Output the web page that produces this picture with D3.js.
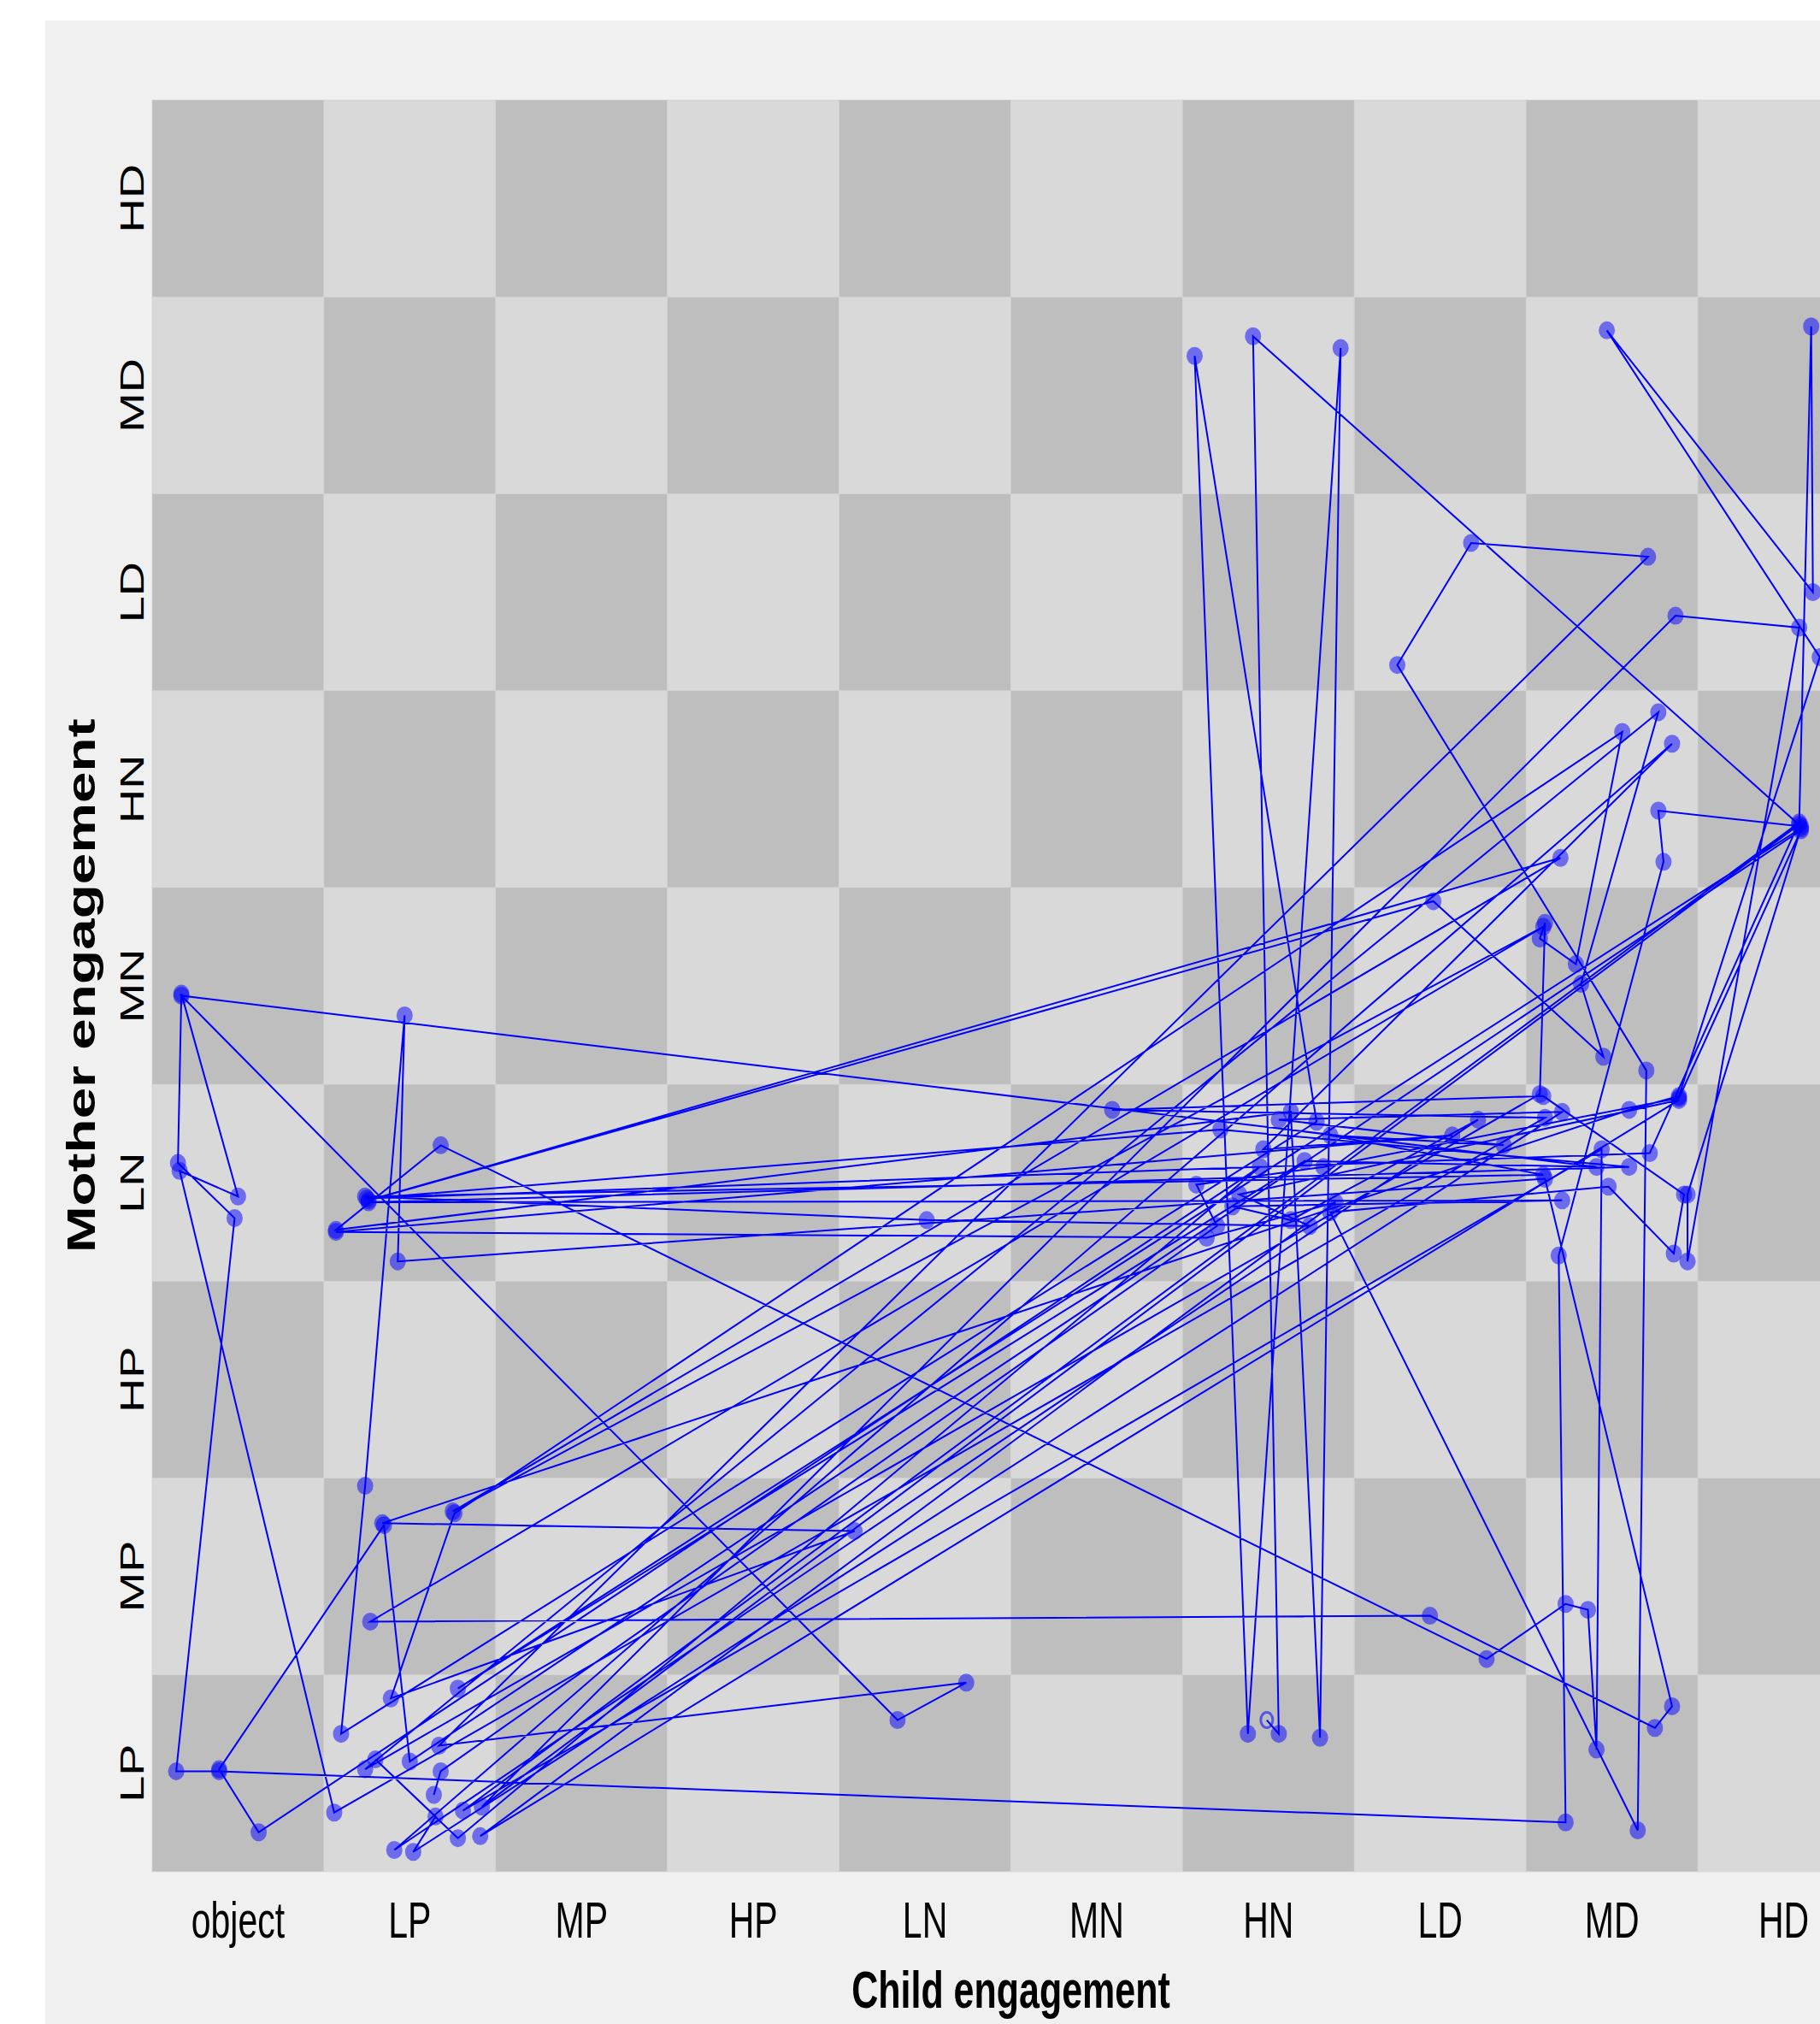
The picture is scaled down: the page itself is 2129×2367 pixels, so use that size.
<!DOCTYPE html>
<html>
<head>
<meta charset="utf-8">
<script src="https://cdn.jsdelivr.net/npm/d3@7"></script>
<style>
  html, body { margin: 0; padding: 0; background: #ffffff; }
  svg { display: block; }
</style>
</head>
<body>
<script>
// ---- data ----
const childCategories  = ["object","LP","MP","HP","LN","MN","HN","LD","MD","HD"];
const motherCategories = ["LP","MP","HP","LN","MN","HN","LD","MD","HD"];

// trajectory, in category-index units (0 = first category), jittered as in the picture
const childValues = [
  5.99, 6.06, 5.91, 9.10, 8.27, 8.30, 7.69, 7.73, -0.11, -0.36,
  -0.02, -0.35, -0.33, 0.00, -0.34, 0.56, 7.61, 5.09, 7.60, 8.42,
  8.36, 7.98, 6.36, 8.15, 8.20, 6.75, 7.18, 8.21, 1.17, 4.24,
  3.84, -0.33, 7.91, 6.21, 1.28, 9.10, 8.44, 8.44, 9.09, 8.37,
  1.42, 9.09, 9.16, 9.17, 7.97, 9.21, 8.39, 8.10, 0.84, 3.59,
  0.89, 1.26, 8.06, 7.79, 7.58, 7.61, 7.58, 0.74, 8.27, 7.82,
  7.95, 6.96, 0.76, 7.70, 1.25, 7.60, 0.77, 6.94, 8.25, 8.35,
  7.61, 0.93, 0.97, 0.74, 0.60, 6.28, 5.57, 5.88, 6.42, 6.30,
  6.13, 0.57, 1.18, 7.27, 7.73, 7.86, 7.91, 7.94, 1.31, 9.09,
  8.22, 0.75, 5.72, 8.10, 0.76, 7.71, 5.79, 6.13, 7.22, 0.91,
  8.35, 5.97, 7.07, 0.57, 5.64, 6.39, 1.41, 8.39, 5.83, 6.24,
  4.01, 0.74, 7.60, 6.36, 7.37, 6.06, 7.71, 1.02, 1.15, 0.80,
  1.28, 5.95, 0.12, -0.11, 0.85, 1.00, 9.10, 8.39, 6.32, 5.58,
  5.70, 1.18, 1.14
];
const motherValues = [
  0.27, 0.20, 7.30, 4.81, 4.89, 4.63, 2.63, -0.25, 0.01, 0.01,
  2.82, 3.10, 3.96, 2.93, 3.06, -0.20, 3.33, 3.37, 3.44, 2.94,
  2.64, 2.98, 2.85, -0.29, 3.57, 5.63, 6.25, 6.18, 0.14, 0.46,
  0.27, 3.95, 3.08, 3.11, 0.43, 4.80, 2.94, 2.60, 5.82, 5.88,
  -0.17, 4.82, 7.35, 6.00, 7.33, 5.67, 3.44, 3.37, 1.27, 1.23,
  0.38, 1.32, 5.29, 4.11, 4.24, 4.32, 3.45, 0.02, 5.39, 4.01,
  3.64, 4.43, 2.91, 4.65, 1.33, 4.30, 0.77, 0.80, 0.23, 0.34,
  3.02, 2.60, 3.85, 1.46, 0.20, 3.31, 7.20, 0.20, 7.24, 0.18,
  3.36, 2.76, 3.19, 0.58, 0.86, 0.83, 0.12, 3.17, -0.19, 4.83,
  3.15, 2.92, 3.27, 3.08, 2.90, 2.91, 2.88, 2.81, 3.32, -0.39,
  5.23, 3.17, 3.24, 2.75, 2.72, 2.90, -0.32, 3.42, 2.94, 2.78,
  2.81, 2.93, 3.04, 3.24, 3.19, 3.32, 3.36, -0.40, -0.22, 0.07,
  -0.33, 3.08, -0.30, 0.02, 1.26, 0.06, 4.79, 3.43, 3.08, 2.99,
  2.78, 0.01, -0.11
];
const xTitle = "Child engagement";
const yTitle = "Mother engagement";

// ---- layout ----
const W = 2129, H = 2367;
const gridLeft = 178, gridTop = 117, cellW = 200.9, cellH = 230.2;
const gridRight = gridLeft + cellW * childCategories.length;
const gridBottom = gridTop + cellH * motherCategories.length;
const vStretch = 1.43;

const svg = d3.select("body").append("svg")
  .attr("width", W).attr("height", H);

svg.append("rect").attr("x", 0).attr("y", 0).attr("width", W).attr("height", H).attr("fill", "#ffffff");
svg.append("rect").attr("x", 53).attr("y", 24).attr("width", W - 53).attr("height", H - 24).attr("fill", "#f0f0f0");

const xBand = d3.scaleBand().domain(childCategories).range([gridLeft, gridRight]);
const yBand = d3.scaleBand().domain(motherCategories.slice().reverse()).range([gridTop, gridBottom]);
const x = d3.scaleLinear().domain([-0.5, childCategories.length - 0.5]).range([gridLeft, gridRight]);
const y = d3.scaleLinear().domain([-0.5, motherCategories.length - 0.5]).range([gridBottom, gridTop]);

// checkerboard
const cells = [];
childCategories.forEach((c, i) => motherCategories.forEach((m, j) => cells.push({c, m, i, j})));
svg.append("g").selectAll("rect").data(cells).join("rect")
  .attr("x", d => xBand(d.c)).attr("y", d => yBand(d.m))
  .attr("width", xBand.bandwidth()).attr("height", yBand.bandwidth())
  .attr("fill", d => (d.i + d.j) % 2 === 0 ? "#bebebe" : "#d9d9d9")
  .attr("stroke", "#d2d2d2").attr("stroke-width", 1).attr("stroke-opacity", 0.6);

// tick labels
svg.append("g").selectAll("text").data(childCategories).join("text")
  .attr("transform", d => `translate(${xBand(d) + xBand.bandwidth() / 2},2266) scale(1,${vStretch})`)
  .attr("text-anchor", "middle")
  .attr("font-family", "Liberation Sans, Arial, sans-serif")
  .attr("font-size", 41).attr("fill", "#000")
  .text(d => d);

svg.append("g").selectAll("text").data(motherCategories).join("text")
  .attr("transform", d => `translate(168,${yBand(d) + yBand.bandwidth() / 2}) scale(1,${vStretch}) rotate(-90)`)
  .attr("text-anchor", "middle")
  .attr("font-family", "Liberation Sans, Arial, sans-serif")
  .attr("font-size", 39).attr("fill", "#000")
  .text(d => d);

// axis titles
svg.append("text")
  .attr("transform", `translate(${(gridLeft + gridRight) / 2},2348) scale(1,${vStretch})`)
  .attr("text-anchor", "middle")
  .attr("font-family", "Liberation Sans, Arial, sans-serif")
  .attr("font-weight", "bold").attr("font-size", 43).attr("fill", "#000")
  .text(xTitle);

svg.append("text")
  .attr("transform", `translate(111,${(gridTop + gridBottom) / 2}) scale(1,${vStretch}) rotate(-90)`)
  .attr("text-anchor", "middle")
  .attr("font-family", "Liberation Sans, Arial, sans-serif")
  .attr("font-weight", "bold").attr("font-size", 46).attr("fill", "#000")
  .text(yTitle);

// trajectory
const pts = childValues.map((v, i) => ({cx: v, my: motherValues[i], i}));

svg.append("g").selectAll("ellipse").data(pts.slice(1)).join("ellipse")
  .attr("cx", d => x(d.cx)).attr("cy", d => y(d.my))
  .attr("rx", 9.5).attr("ry", 10.5)
  .attr("fill", "#0000ff").attr("fill-opacity", 0.5);

svg.append("ellipse")
  .attr("cx", x(pts[0].cx)).attr("cy", y(pts[0].my))
  .attr("rx", 7).attr("ry", 9)
  .attr("fill", "none").attr("stroke", "#0000ff").attr("stroke-opacity", 0.55).attr("stroke-width", 3);

const line = d3.line().x(d => x(d.cx)).y(d => y(d.my));
svg.append("path").datum(pts)
  .attr("d", line)
  .attr("fill", "none").attr("stroke", "#0000ff").attr("stroke-width", 2);
</script>
</body>
</html>
